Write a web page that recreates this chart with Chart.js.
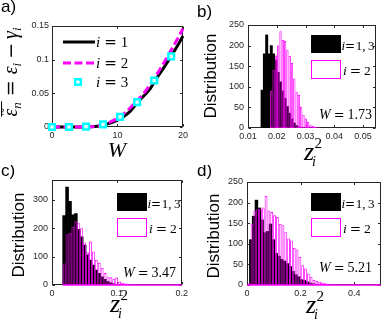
<!DOCTYPE html>
<html><head><meta charset="utf-8">
<script src="https://cdn.jsdelivr.net/npm/chart.js@4.4.1/dist/chart.umd.min.js"></script>
<style>
html,body{margin:0;padding:0;background:#fff;}
body{width:382px;height:327px;position:relative;overflow:hidden}
canvas{position:absolute;display:block}
</style></head><body>
<canvas id="ca" width="191" height="165" style="left:0;top:0"></canvas>
<canvas id="cb" width="191" height="175" style="left:191px;top:0"></canvas>
<canvas id="cc" width="191" height="162" style="left:0;top:165px"></canvas>
<canvas id="cd" width="191" height="162" style="left:191px;top:165px"></canvas>
<script>
// ---------------- data ----------------
// panel a
const aW    = [0,2,4,6,7,8,9,10,11,12,13,14,15,16,17,18,19,20];
const aEps1 = [0,0,0,0.0002,0.001,0.003,0.006,0.010,0.016,0.024,0.036,0.046,0.057,0.073,0.087,0.102,0.118,0.135];
const aEps2 = [0,0,0,0.0005,0.0015,0.004,0.008,0.013,0.020,0.029,0.039,0.050,0.063,0.078,0.094,0.111,0.128,0.146];
const aW3   = [0,2.6,5.2,7.8,10.4,13,15.6,18.2];
const aEps3 = [0,0,0.0005,0.004,0.015,0.037,0.069,0.105];
const aXTicks = [0,10,20];
const aYTicks = [0,0.05,0.1,0.15];
const aLabels = ['1','2','3'];

// panel b (W = 1.73)
const bBinWidth = 0.0008;
const bStart13  = 0.0145;
const bCounts13 = [92,180,226,180,200,180,165,135,112,90,72,52,36,22,12,6,3];
const bStart2   = 0.0177;
const bCounts2  = [90,141,176,200,235,214,211,190,175,158,120,88,80,52,32,23,15,8,5,3,2,1];
const bXTicks = [0.01,0.02,0.03,0.04,0.05];
const bYTicks = [0,50,100,150,200,250];

// panel c (W = 3.47)
const cBinWidth = 0.0045;
const cStart13  = 0.0165;
const cCounts13 = [245,345,295,247,252,196,170,141,106,88,70,53,41,29,20,12,8,4];
const cStart2   = 0.0165;
const cCounts2  = [76,178,182,206,225,218,200,150,115,153,118,88,78,60,42,30,27,22,26,12,8,5,3,2,1,1];
const cZeroRange = [0.0165,0.2];
const cXTicks = [0,0.1,0.2];
const cYTicks = [0,100,200,300];

// panel d (W = 5.21)
const dBinWidth = 0.0105;
const dStart13  = 0.009;
const dCounts13 = [110,167,206,187,158,127,130,148,110,77,70,62,58,52,45,33,25,20,13,11,8,5,3,2];
const dStart2   = 0.003;
const dCounts2  = [4,148,181,184,185,188,216,181,177,169,165,148,145,128,113,108,90,86,68,48,40,28,20,12,10,8,6,4,3,2,1];
const dZeroRange = [0,0.5];
const dXTicks = [0,0.2,0.4];
const dYTicks = [0,50,100,150,200,250];

const wValues = ['1.73','3.47','5.21'];

// ---------------- style ----------------
const SANS = "'Liberation Sans', Arial, sans-serif";
const SERIF = "'Liberation Serif', 'Times New Roman', serif";
const SERIF2 = "'DejaVu Serif', serif";
const MAG = '#ff00ff', CYAN = '#00ffff', AX = '#262626';

function hist(start, w, counts){ return counts.map((c,k)=>({x:start+(k+0.5)*w, y:c})); }
function pts(xs, ys){ return xs.map((x,i)=>({x:x, y:ys[i]})); }
function fmt(v){ return String(parseFloat(Number(v).toFixed(6))); }

function scales(o){
  const mk = (axis, ticks, min, max, size, pad) => ({
    type:'linear', min:min, max:max, offset:false, position: axis==='x'?'bottom':'left',
    afterBuildTicks: s => { s.ticks = ticks.map(v=>({value:v})); },
    grid:{display:false, drawTicks:false}, border:{display:false},
    ticks:{color:AX, font:{family:SANS, size:9}, padding:pad, autoSkip:false, maxRotation:0, minRotation:0, includeBounds:false, callback: v=>fmt(v)},
    afterFit: s => { if (axis==='x') s.height = size; else s.width = size; }
  });
  const sc = { x: mk('x', o.xt, o.xmin, o.xmax, o.xh, 3), y: mk('y', o.yt, o.ymin, o.ymax, o.yw, o.ypad) };
  if (o.x2) sc.x2 = {type:'linear', display:false, min:o.xmin, max:o.xmax, offset:false};
  return sc;
}

const frame = {
  id:'frame',
  beforeDatasetsDraw(chart){
    const ctx = chart.ctx, a = chart.chartArea, sx = chart.scales.x, sy = chart.scales.y;
    ctx.save(); ctx.strokeStyle = AX; ctx.lineWidth = 1;
    const L = Math.round(a.left)+0.5, R = Math.round(a.right)-0.5, T = Math.round(a.top)+0.5, B = Math.round(a.bottom)-0.5;
    ctx.strokeRect(L, T, R-L, B-T);
    ctx.beginPath();
    const tl = 2.5;
    for (const t of sx.ticks){ const p = Math.round(sx.getPixelForValue(t.value))+0.5; ctx.moveTo(p,B); ctx.lineTo(p,B-tl); ctx.moveTo(p,T); ctx.lineTo(p,T+tl); }
    for (const t of sy.ticks){ const p = Math.round(sy.getPixelForValue(t.value))+0.5; ctx.moveTo(L,p); ctx.lineTo(L+tl,p); ctx.moveTo(R,p); ctx.lineTo(R-tl,p); }
    ctx.stroke(); ctx.restore();
  }
};

function rich(ctx, x, y, segs){
  let cx = x;
  for (const s of segs){ cx += s.dx||0; ctx.font = s.f; ctx.fillText(s.t, cx, y+(s.dy||0)); cx += ctx.measureText(s.t).width; }
  return cx - x;
}
function richWidth(ctx, segs){
  let w = 0; for (const s of segs){ w += s.dx||0; ctx.font = s.f; w += ctx.measureText(s.t).width; } return w;
}
function panelLabel(ctx, s, x, y){ ctx.font = '17px '+SANS; ctx.textAlign='left'; ctx.fillStyle='#000'; ctx.fillText(s, x, y); }
function vlabel(ctx, s, x, y, font){ ctx.save(); ctx.translate(x,y); ctx.rotate(-Math.PI/2); ctx.font=font; ctx.textAlign='center'; ctx.fillStyle='#000'; ctx.fillText(s,0,0); ctx.restore(); }
function iEq(ctx, x, y, val, size, gap){
  return rich(ctx, x, y, [
    {t:'i', f:'italic '+size+'px '+SERIF},
    {t:'=', f:size+'px '+SERIF2, dx:gap},
    {t:val, f:size+'px '+SERIF, dx:gap}
  ]);
}
function zlab(ctx, x, y){
  ctx.textAlign='left'; ctx.fillStyle='#000';
  ctx.font = 'italic 26px '+SERIF; ctx.fillText('z', x, y);
  const w = ctx.measureText('z').width;
  ctx.font = '15px '+SERIF; ctx.fillText('2', x+w+0.5, y-12);
  ctx.font = 'italic 14px '+SERIF; ctx.fillText('i', x+w-2, y+6);
}

// ---------------- panel a ----------------
const decoA = {
  id:'decoA',
  afterDraw(chart){
    const ctx = chart.ctx; ctx.save(); ctx.fillStyle='#000'; ctx.textAlign='left';
    panelLabel(ctx, 'a)', 1, 12);
    // legend
    ctx.lineWidth = 3; ctx.strokeStyle = '#000';
    ctx.beginPath(); ctx.moveTo(63,42); ctx.lineTo(95,42); ctx.stroke();
    ctx.strokeStyle = MAG; ctx.setLineDash([8,3.5]);
    ctx.beginPath(); ctx.moveTo(63,63); ctx.lineTo(95,63); ctx.stroke(); ctx.setLineDash([]);
    ctx.lineWidth = 2.5; ctx.strokeStyle = CYAN; ctx.fillStyle = '#fff';
    ctx.beginPath(); ctx.rect(78-2.8, 82-2.8, 5.6, 5.6); ctx.fill(); ctx.stroke();
    ctx.fillStyle = '#000';
    iEq(ctx, 96, 47, aLabels[0], 15, 4);
    iEq(ctx, 96, 68, aLabels[1], 15, 4);
    iEq(ctx, 96, 87, aLabels[2], 15, 4);
    // x label
    ctx.font = 'italic 22px '+SERIF; ctx.textAlign='center'; ctx.fillText('W', 117, 157);
    // y label (rotated)
    ctx.translate(17, 72); ctx.rotate(-Math.PI/2); ctx.textAlign='left';
    const F = 'italic 20px '+SERIF, S = 'italic 13px '+SERIF, O = '19px '+SERIF2;
    const segs = [
      {t:'\u03b5', f:F},
      {t:'n', f:S, dy:4},
      {t:'=', f:O, dx:6},
      {t:'\u03b5', f:F, dx:6},
      {t:'i', f:S, dy:4},
      {t:'\u2212', f:O, dx:4},
      {t:'\u03b3', f:F, dx:4},
      {t:'i', f:S, dy:4}
    ];
    const tw = richWidth(ctx, segs);
    const x0 = -tw/2;
    rich(ctx, x0, 0, segs);
    ctx.font = F; const ew = ctx.measureText('\u03b5').width;
    ctx.font = S; const nw = ctx.measureText('n').width;
    ctx.font = '14px '+SERIF; ctx.textAlign='center'; ctx.fillText('~', x0+ew/2+1, -9);
    ctx.lineWidth = 1; ctx.strokeStyle = '#000';
    ctx.beginPath(); ctx.moveTo(x0, -15.5); ctx.lineTo(x0+ew+nw+1, -15.5); ctx.stroke();
    ctx.restore();
  }
};

new Chart(document.getElementById('ca'), {
  type:'line',
  data:{ datasets:[
    {label:'i = 3', data:pts(aW3,aEps3), showLine:false, pointStyle:'rect', pointRadius:4, pointBorderWidth:2.5, pointBorderColor:CYAN, pointBackgroundColor:'#fff', borderColor:CYAN, backgroundColor:'#fff', clip:false, order:0},
    {label:'i = 2', data:pts(aW,aEps2), borderColor:MAG, borderWidth:3, borderDash:[8,3.5], pointRadius:0, cubicInterpolationMode:'monotone', fill:false, clip:false, order:1},
    {label:'i = 1', data:pts(aW,aEps1), borderColor:'#000', borderWidth:3, pointRadius:0, cubicInterpolationMode:'monotone', fill:false, clip:false, order:2}
  ]},
  options:{
    responsive:false, animation:false, devicePixelRatio:1,
    layout:{padding:{left:0, right:8, top:26, bottom:0}},
    plugins:{legend:{display:false}, tooltip:{enabled:false}},
    scales: scales({xt:aXTicks, xmin:0, xmax:20, xh:38, yt:aYTicks, ymin:0, ymax:0.15, yw:52, ypad:3})
  },
  plugins:[frame, decoA]
});

// ---------------- histogram panels ----------------
function histDecor(o){
  return {
    id:'deco'+o.tag,
    afterDraw(chart){
      const ctx = chart.ctx; ctx.save(); ctx.fillStyle='#000'; ctx.textAlign='left';
      panelLabel(ctx, o.tag+')', o.lab[0], o.lab[1]);
      vlabel(ctx, 'Distribution', o.dist[0], o.dist[1], '17px '+SANS);
      // legend boxes
      ctx.fillStyle = '#000'; ctx.fillRect(o.leg[0], o.leg[1], 30, 18);
      ctx.strokeStyle = MAG; ctx.lineWidth = 1; ctx.strokeRect(o.leg[0]+0.5, o.leg[1]+25.5, 29, 18);
      ctx.fillStyle = '#000';
      rich(ctx, o.leg[0]+30.5, o.leg[1]+15, [
        {t:'i', f:'italic 13px '+SERIF},
        {t:'=', f:'12px '+SERIF2, dx:0},
        {t:'1,\u2009', f:'13px '+SERIF, dx:0.5},
        {t:'3', f:'13px '+SERIF}
      ]);
      iEq(ctx, o.leg[0]+32, o.leg[1]+40, '2', 13.5, 3);
      // W = value
      rich(ctx, o.w[0], o.w[1], [
        {t:'W', f:'italic 14px '+SERIF},
        {t:'=', f:'13px '+SERIF2, dx:3},
        {t:o.wv, f:'14px '+SERIF, dx:3}
      ]);
      zlab(ctx, o.z[0], o.z[1]);
      ctx.restore();
    }
  };
}

function histChart(id, o){
  const ds = [
    {type:'bar', data:hist(o.s2, o.bw, o.c2), xAxisID:'x2', grouped:false, backgroundColor:'rgba(255,255,255,0)', borderColor:MAG, borderWidth:0.8, inflateAmount:0, borderSkipped:false, barPercentage:1, categoryPercentage:1, order:1},
    {type:'bar', data:hist(o.s13, o.bw, o.c13), xAxisID:'x', grouped:false, backgroundColor:'#000', borderWidth:0, barPercentage:1, categoryPercentage:1, order:2}
  ];
  if (o.zero) ds.unshift({type:'line', data:[{x:o.zero[0],y:0},{x:o.zero[1],y:0}], xAxisID:'x', borderColor:MAG, borderWidth:1.5, pointRadius:0, clip:false, order:0});
  new Chart(document.getElementById(id), {
    type:'bar',
    data:{datasets:ds},
    options:{
      responsive:false, animation:false, devicePixelRatio:1,
      layout:{padding:{left:0, right:o.pr, top:o.pt, bottom:0}},
      plugins:{legend:{display:false}, tooltip:{enabled:false}},
      scales: scales({xt:o.xt, xmin:o.xmin, xmax:o.xmax, xh:o.xh, yt:o.yt, ymin:0, ymax:o.ymax, yw:o.yw, ypad:4, x2:true})
    },
    plugins:[frame, histDecor(o.deco)]
  });
}

histChart('cb', {s13:bStart13, c13:bCounts13, s2:bStart2, c2:bCounts2, bw:bBinWidth,
  xt:bXTicks, xmin:0.01, xmax:0.0545, xh:47, yt:bYTicks, ymax:250, yw:57, pr:6, pt:25,
  deco:{tag:'b', lab:[6,17], dist:[25,76], leg:[120,35], w:[128,119], wv:wValues[0], z:[113,160]}});

histChart('cc', {s13:cStart13, c13:cCounts13, s2:cStart2, c2:cCounts2, bw:cBinWidth, zero:cZeroRange,
  xt:cXTicks, xmin:0, xmax:0.2, xh:42, yt:cYTicks, ymax:370, yw:52, pr:7, pt:15,
  deco:{tag:'c', lab:[1,11], dist:[24,70], leg:[117,28], w:[123,112], wv:wValues[1], z:[110,147]}});

histChart('cd', {s13:dStart13, c13:dCounts13, s2:dStart2, c2:dCounts2, bw:dBinWidth, zero:dZeroRange,
  xt:dXTicks, xmin:0, xmax:0.5, xh:42, yt:dYTicks, ymax:250, yw:56, pr:1, pt:17,
  deco:{tag:'d', lab:[6,11], dist:[28,71], leg:[120,28], w:[128,107], wv:wValues[2], z:[115,148]}});
</script></body></html>
